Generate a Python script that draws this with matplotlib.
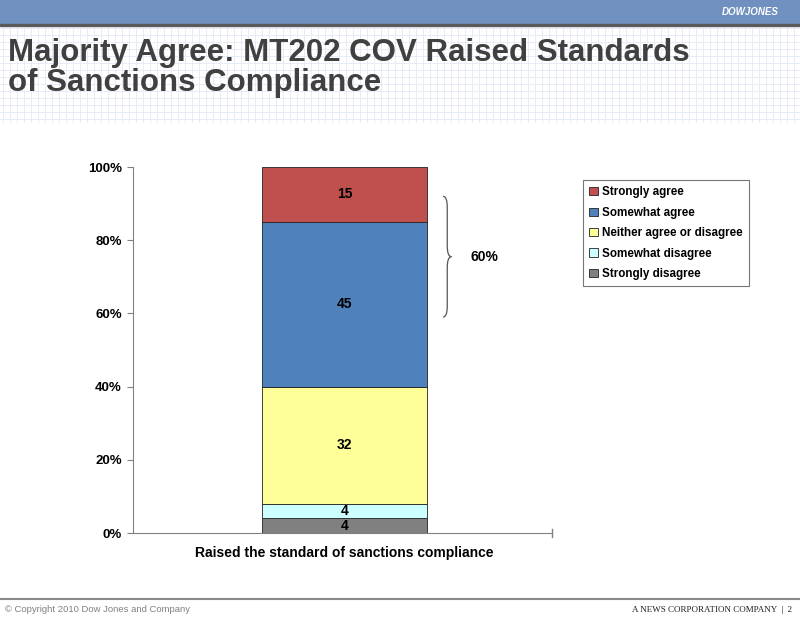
import numpy as np
import matplotlib.pyplot as plt
from matplotlib.path import Path
from matplotlib.patches import PathPatch, Rectangle

plt.rcParams['font.family'] = ['Liberation Sans', 'DejaVu Sans']

category = ["Raised the standard of sanctions compliance"]
series = ["Strongly disagree", "Somewhat disagree", "Neither agree or disagree",
          "Somewhat agree", "Strongly agree"]
values = [4, 4, 32, 45, 15]
colors = ["#808080", "#CCFFFF", "#FFFF99", "#4F81BD", "#C0504D"]
brace_label = "60%"

fig = plt.figure(figsize=(8, 6.17), dpi=100)
W, H = 800, 617

# slide header band
fig.patches.append(Rectangle((0, 1 - 24 / H), 1, 24 / H, transform=fig.transFigure,
                             color="#7090C0", zorder=0))
fig.patches.append(Rectangle((0, 1 - 26 / H), 1, 2 / H, transform=fig.transFigure,
                             color="#5A5A5A", zorder=0))
fig.text(0.974, 1 - 12 / H, "DOWJONES", color="white", fontsize=7, fontweight="bold",
         style="italic", ha="right", va="center")

# faint grid pattern behind the title
for y in np.arange(28, 122, 7):
    fig.add_artist(plt.Line2D([0, 1], [1 - y / H] * 2, color="#E4E9F5", lw=0.6, zorder=0))
for x in np.arange(3, W, 7):
    fig.add_artist(plt.Line2D([x / W] * 2, [1 - 28 / H, 1 - 122 / H], color="#E4E9F5",
                              lw=0.6, zorder=0))

fig.text(0.01, 1 - 38 / H, "Majority Agree: MT202 COV Raised Standards\nof Sanctions Compliance",
         fontsize=22.5, fontweight="bold", color="#404040", ha="left", va="top",
         linespacing=1.02)

# footer
fig.add_artist(plt.Line2D([0, 1], [1 - 599 / H] * 2, color="#8A8A8A", lw=1.5))
fig.text(0.006, 1 - 610 / H, "© Copyright 2010 Dow Jones and Company", fontsize=6.8,
         color="#808080", ha="left", va="center")
fig.text(0.99, 1 - 610 / H, "A NEWS CORPORATION COMPANY  |  2", fontsize=6.5,
         family="Liberation Serif", color="#202020", ha="right", va="center")

ax = fig.add_axes([133 / W, 1 - 533 / H, 419 / W, 366 / H])
bottom = 0
for name, v, c in zip(series, values, colors):
    ax.bar([0], [v], width=0.79, bottom=bottom, color=c, edgecolor="#222222",
           linewidth=0.6, label=name)
    ax.text(0, bottom + v / 2, str(v), ha="center", va="center", fontsize=10,
            fontweight="bold")
    bottom += v

ax.set_xlim(-1.01, 0.99)
ax.set_ylim(0, 100)
ax.set_yticks(np.arange(0, 101, 20))
ax.set_yticklabels([f"{t}%" for t in range(0, 101, 20)], fontsize=9.5, fontweight="bold")
ax.set_xticks([0])
ax.set_xticklabels(category, fontsize=10, fontweight="bold")
ax.tick_params(axis="x", length=0, pad=9)
ax.tick_params(axis="y", direction="out", length=4, color="#808080", pad=4)
for s in ["top", "right"]:
    ax.spines[s].set_visible(False)
for s in ["left", "bottom"]:
    ax.spines[s].set_color("#808080")
ax.plot([1, 1], [-0.012, 0.012], transform=ax.transAxes, color="#808080", lw=1,
        clip_on=False)

# curly brace for agree total
x0, d = 0.740, 0.010
yt, yb = 0.92, 0.59
ym = (yt + yb) / 2
r = 0.03
verts = [(x0, yt), (x0 + d, yt), (x0 + d, yt - r),
         (x0 + d, ym + r), (x0 + d, ym), (x0 + 2 * d, ym),
         (x0 + d, ym), (x0 + d, ym - r),
         (x0 + d, yb + r), (x0 + d, yb), (x0, yb)]
codes = [Path.MOVETO, Path.CURVE3, Path.CURVE3,
         Path.LINETO, Path.CURVE3, Path.CURVE3,
         Path.CURVE3, Path.CURVE3,
         Path.LINETO, Path.CURVE3, Path.CURVE3]
ax.add_patch(PathPatch(Path(verts, codes), transform=ax.transAxes, fill=False,
                       edgecolor="#555555", lw=0.9, clip_on=False))
ax.text(0.805, ym, brace_label, transform=ax.transAxes, fontsize=10, fontweight="bold",
        ha="left", va="center")

handles, labels = ax.get_legend_handles_labels()
leg = fig.legend(handles[::-1], labels[::-1], loc="upper left",
                 bbox_to_anchor=(583 / W, 1 - 180 / H), prop={"weight": "bold", "size": 8.4},
                 frameon=True, fancybox=False, handlelength=0.7, handleheight=0.7,
                 handletextpad=0.35, labelspacing=0.72, borderpad=0.55, borderaxespad=0)
leg.get_frame().set_edgecolor("#555555")
leg.get_frame().set_linewidth(0.8)

fig.savefig("out.png", dpi=100)
